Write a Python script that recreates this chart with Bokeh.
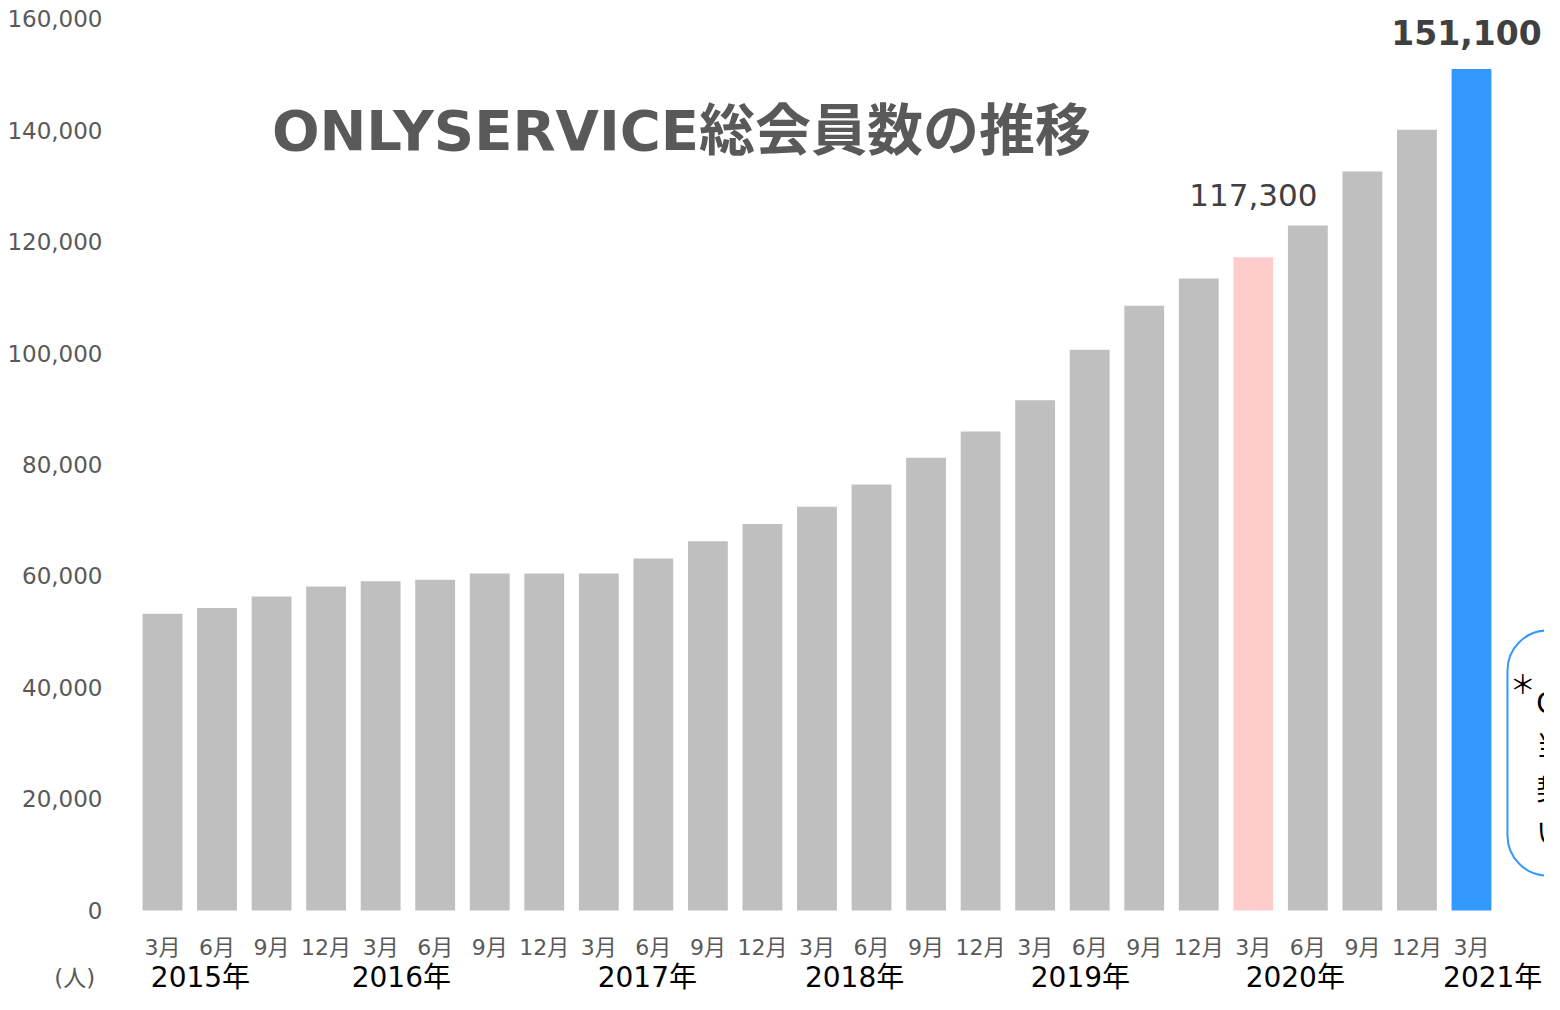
from bokeh.plotting import figure
from bokeh.models import Range1d, FixedTicker, Label, BoxAnnotation, NumeralTickFormatter
from bokeh.embed import file_html
from bokeh.resources import INLINE
from bokeh.core.properties import value

# ---- data ----
months = ["3月", "6月", "9月", "12月"] * 6 + ["3月"]
members = [53300, 54300, 56400, 58200, 59100, 59400, 60500, 60500, 60500,
           63200, 66300, 69400, 72500, 76500, 81300, 86000, 91600, 100700,
           108600, 113500, 117300, 123000, 132700, 140200, 151100]
years = ["2015年", "2016年", "2017年", "2018年", "2019年", "2020年", "2021年"]
y_ticks = [0, 20000, 40000, 60000, 80000, 100000, 120000, 140000, 160000]
title_text = "ONLYSERVICE総会員数の推移"
unit_text = "(人)\u00a0"
note_text = "ONLYSERVICE会員数は\n当社サービスをご利用の\n契約件数の合計を表して\nいます。"

# ---- layout / style (not data) ----
year_pos = [0.697, 4.38, 8.89, 12.69, 16.83, 20.77, 24.39]
month_row = -6640      # vertical position of month labels (below zero line)
year_row = -12030      # vertical position of year labels
pink_idx = 20
blue_idx = 24
FONT = "'DejaVu Sans', 'Noto Sans CJK JP'"

x = list(range(len(members)))
colors = ["#BFBFBF"] * len(members)
colors[pink_idx] = "#FFCCCC"
colors[blue_idx] = "#3399FF"

p = figure(width=1544, height=994, output_backend="svg", toolbar_location=None,
           x_axis_location=None,
           x_range=Range1d(-0.843, 25.339), y_range=Range1d(-15080, 163400),
           min_border_left=116, min_border_right=0, min_border_top=0, min_border_bottom=0,
           background_fill_color="white", border_fill_color="white")
p.outline_line_color = None
p.xgrid.visible = False
p.ygrid.visible = False

p.vbar(x=x, top=members, width=0.73, color=colors, line_color=None)

# y axis (with the unit shown on the year row)
ya = p.yaxis[0]
ya.ticker = FixedTicker(ticks=y_ticks + [year_row])
ya.formatter = NumeralTickFormatter(format="0,0")
ya.major_label_overrides = {year_row: unit_text}
ya.axis_line_color = None
ya.major_tick_line_color = None
ya.major_tick_out = 0
ya.major_tick_in = 0
ya.minor_tick_line_color = None
ya.minor_tick_out = 0
ya.major_label_standoff = 14
ya.major_label_text_font = FONT
ya.major_label_text_font_size = "23px"
ya.major_label_text_color = "#595959"

# month labels
p.text(x=x, y=[month_row] * len(x), text=months, text_align="center",
       text_baseline="middle", text_font=value(FONT), text_font_size="22px",
       text_color="#595959")

# year labels
p.text(x=year_pos, y=[year_row] * len(years), text=years, text_align="center",
       text_baseline="middle", text_font=value(FONT), text_font_size="28px",
       text_color="#000000")

# value labels
p.text(x=[x[pink_idx]], y=[members[pink_idx]], text=[f"{members[pink_idx]:,}"],
       text_align="center", text_baseline="bottom", y_offset=-51,
       text_font=value("DejaVu Sans"), text_font_size="31px", text_color="#404040")
p.text(x=[x[blue_idx]], y=[members[blue_idx]], text=[f"{members[blue_idx]:,}"],
       text_align="center", text_baseline="bottom", y_offset=-24, x_offset=-5,
       text_font=value("DejaVu Sans"), text_font_style="bold", text_font_size="33px",
       text_color="#404040")

# title
p.add_layout(Label(x=9.516, y=140000, text=title_text, text_align="center",
                   text_baseline="middle", text_font=FONT, text_font_style="bold",
                   text_font_size="56px", text_color="#595959"))

# note box (partially visible at right edge, as in the reference)
p.add_layout(BoxAnnotation(left=24.66, right=27.0, top=50280, bottom=6280,
                           fill_color="white", fill_alpha=1.0,
                           line_color="#3399FF", line_alpha=1.0, line_width=2,
                           border_radius=40))
p.add_layout(Label(x=24.94, y=40580, text="＊", text_align="center", text_baseline="middle",
                   text_font=FONT, text_font_size="26px", text_color="#000000"))
p.add_layout(Label(x=25.19, y=40200, text=note_text, text_align="left", text_baseline="top",
                   text_font=FONT, text_font_size="28px", text_color="#000000",
                   text_line_height=1.32))

open("out.html", "w").write(file_html(p, INLINE))
